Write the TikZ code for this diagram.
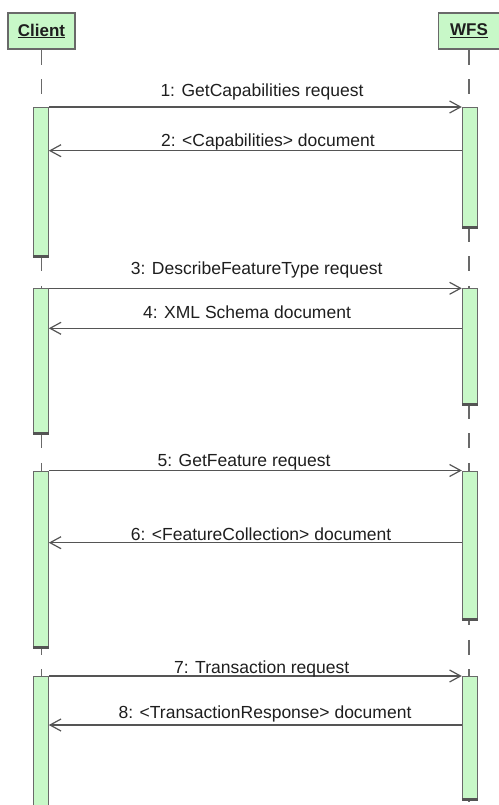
\documentclass[tikz,border=0pt]{standalone}
\usepackage{fontspec}
\setmainfont{Liberation Sans}
\usetikzlibrary{arrows.meta}
\definecolor{actfill}{RGB}{200,248,200}
\definecolor{edge}{RGB}{105,105,105}
\definecolor{msgline}{RGB}{85,85,85}
\definecolor{txt}{RGB}{30,30,30}

\begin{document}
\begin{tikzpicture}[x=1pt,y=-1pt,
  header/.style={draw=edge, line width=1.5pt, fill=actfill, minimum height=36pt,
    inner sep=0pt, font=\fontsize{17}{20}\selectfont\bfseries, text=txt},
  lifeline/.style={draw=edge, line width=1.3pt, dash pattern=on 15pt off 14.5pt},
  activation/.style={draw=edge, line width=1pt, fill=actfill, minimum width=15pt,
    inner sep=0pt, anchor=north},
  actbase/.style={draw=edge!80!black, line width=3pt},
  msg/.style={draw=msgline, line width=1.2pt, -{Straight Barb[length=11pt,width=12pt]}},
  lbl/.style={anchor=base, font=\fontsize{17.5}{20}\selectfont, text=txt, inner sep=0pt}
]
\useasboundingbox (0,0) rectangle (498,805);

% participants
\node[header, minimum width=67pt] (client) at (41.5,31) {\underline{Client}};
\node[header, minimum width=61pt] (wfs) at (469,31) {\underline{WFS}};

% lifelines
\coordinate (bottom) at (0,805);
\draw[lifeline] (client.south) -- (client.south |- bottom);
\draw[lifeline] (wfs.south) -- (wfs.south |- bottom);

% activation bars
\node[activation, minimum height=148pt]   (c1) at (40.8,107) {};
\node[activation, minimum height=119pt]   (w1) at (469.8,107) {};
\node[activation, minimum height=144.4pt] (c2) at (40.8,288.3) {};
\node[activation, minimum height=115pt]   (w2) at (469.8,288.3) {};
\node[activation, minimum height=176pt]   (c3) at (40.8,470.5) {};
\node[activation, minimum height=148pt]   (w3) at (469.8,470.5) {};
\node[activation, minimum height=140pt]   (c4) at (40.8,676) {};
\node[activation, minimum height=122pt]   (w4) at (469.8,676) {};
\foreach \a in {c1,w1,c2,w2,c3,w3,w4}
  \draw[actbase] (\a.south west) -- (\a.south east);

% return levels
\coordinate (r1) at (0,150.7);
\coordinate (r2) at (0,328.3);
\coordinate (r3) at (0,542.7);
\coordinate (r4) at (0,725);

% messages
\draw[msg] (c1.north east) -- (w1.north west);
\draw[msg] (w1.west |- r1) -- (c1.east |- r1);
\draw[msg] (c2.north east) -- (w2.north west);
\draw[msg] (w2.west |- r2) -- (c2.east |- r2);
\draw[msg] (c3.north east) -- (w3.north west);
\draw[msg] (w3.west |- r3) -- (c3.east |- r3);
\draw[msg] (c4.north east) -- (w4.north west);
\draw[msg] (w4.west |- r4) -- (c4.east |- r4);

% message labels
\node[lbl] (l1) at (262,96.7)  {1: GetCapabilities request};
\node[lbl] (l2) at (268,146.7) {2: <Capabilities> document};
\node[lbl] (l3) at (256.7,274.3) {3: DescribeFeatureType request};
\node[lbl] (l4) at (247,318.3) {4: XML Schema document};
\node[lbl] (l5) at (244,466.7) {5: GetFeature request};
\node[lbl] (l6) at (261,540)   {6: <FeatureCollection> document};
\node[lbl] (l7) at (261.7,673.3) {7: Transaction request};
\node[lbl] (l8) at (265,718.3) {8: <TransactionResponse> document};
\end{tikzpicture}
\end{document}
